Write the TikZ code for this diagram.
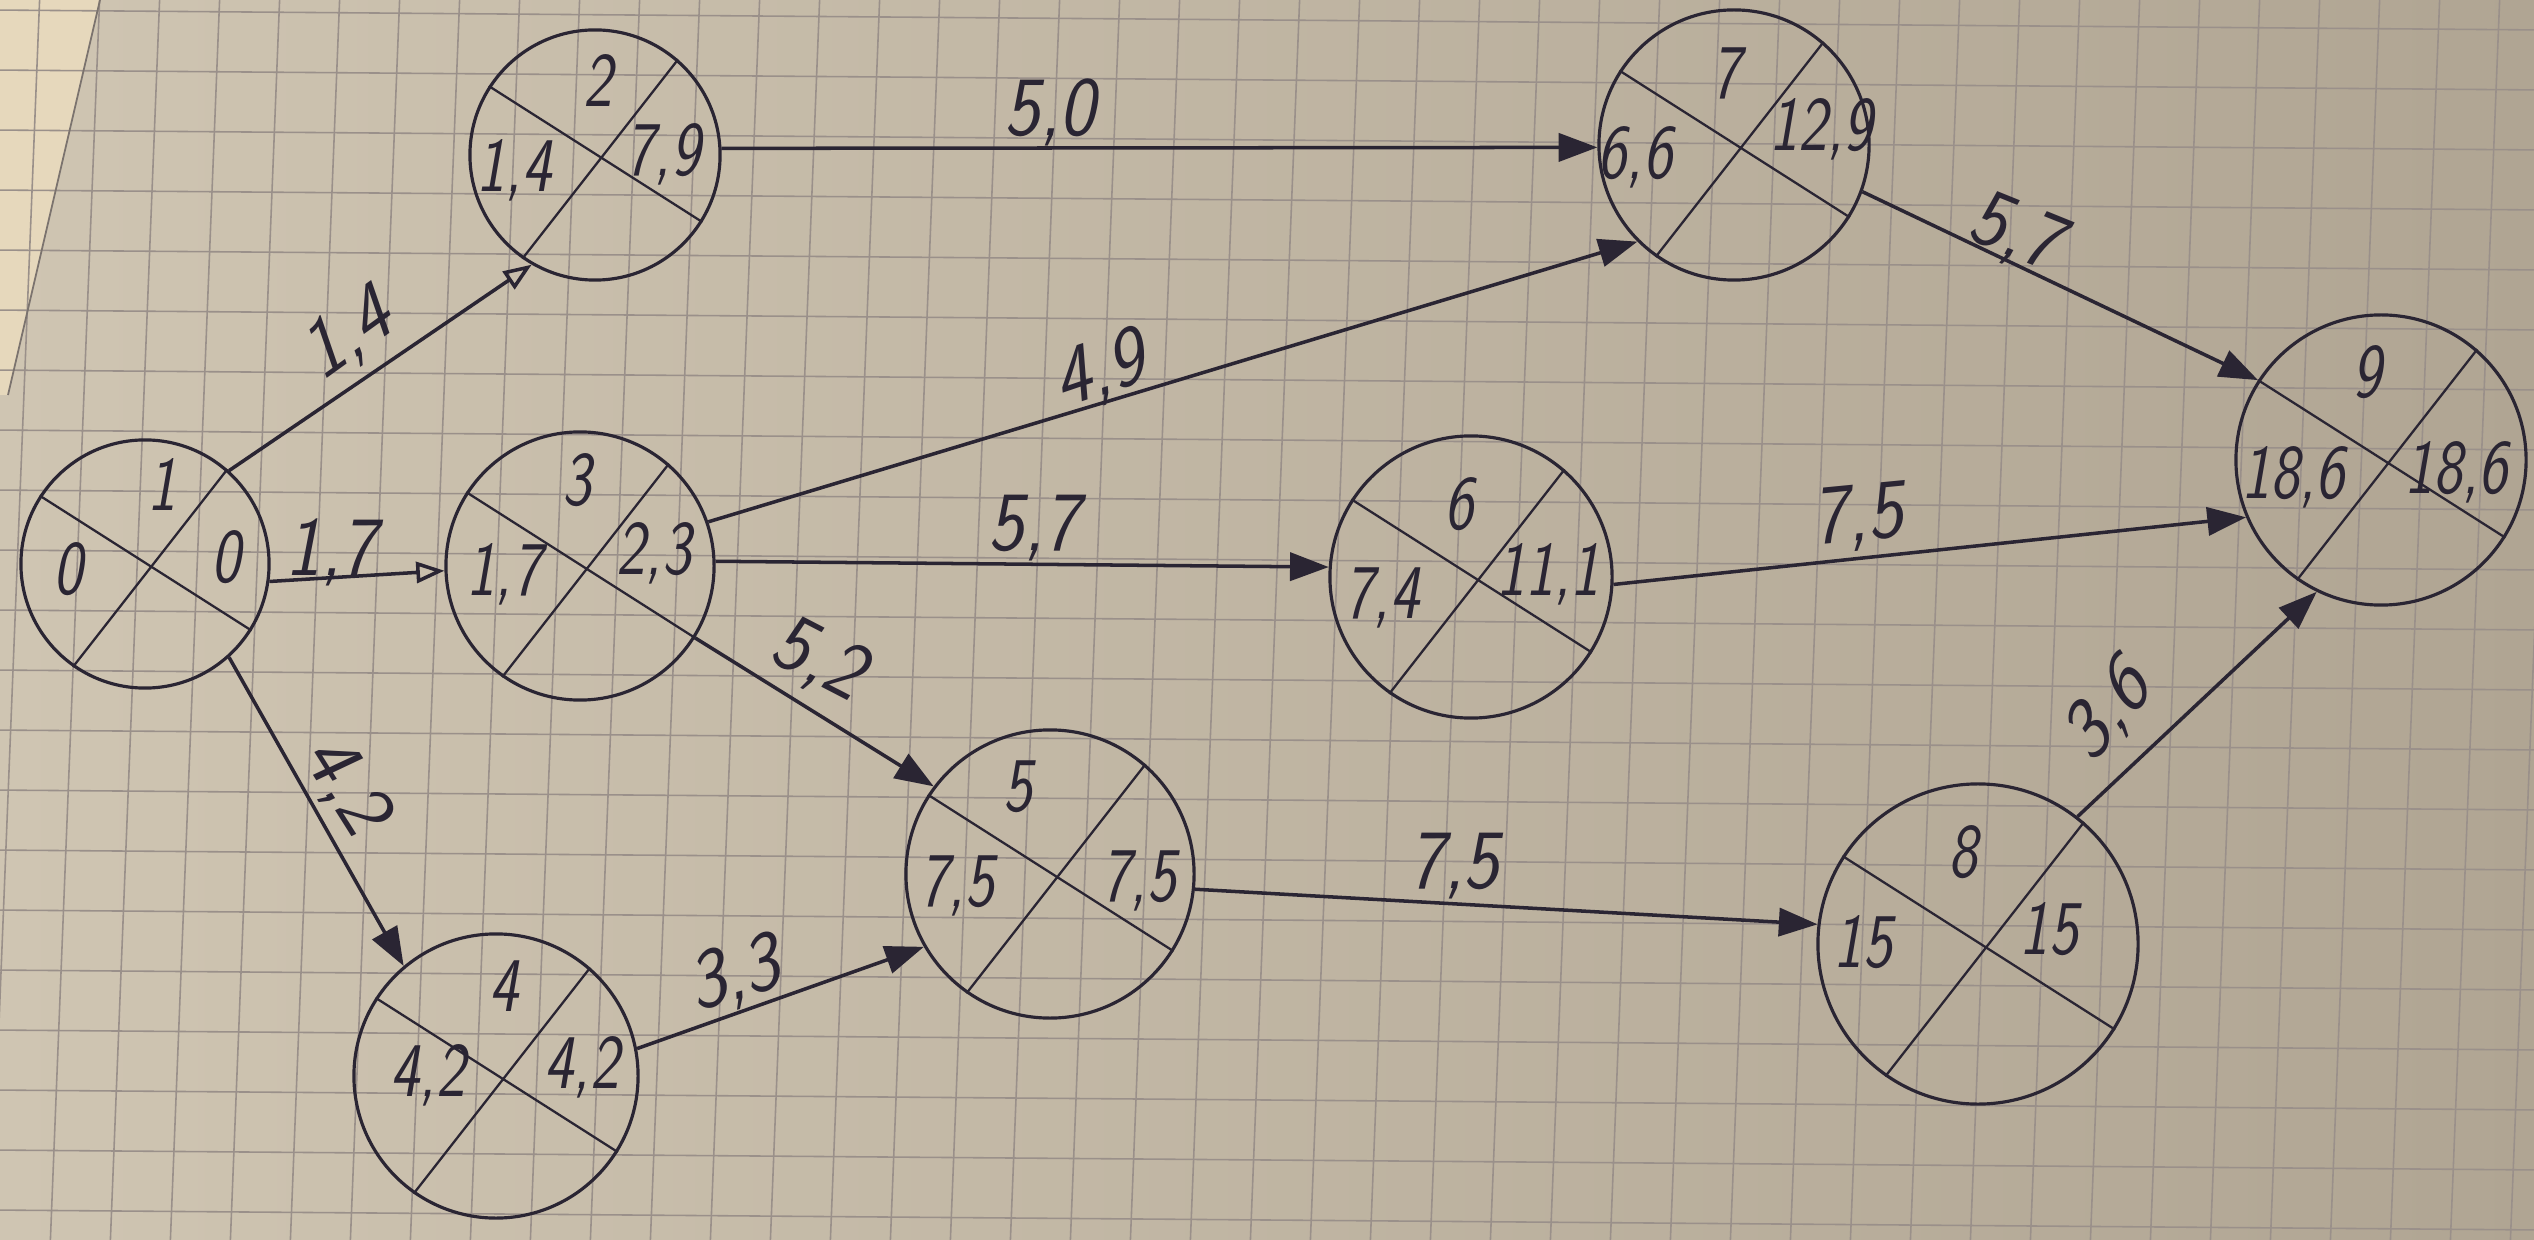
\documentclass[tikz,border=0pt]{standalone}
\usetikzlibrary{arrows.meta}
\definecolor{inkc}{HTML}{2A2533}
\definecolor{paperA}{HTML}{CFC5B2}
\definecolor{paperB}{HTML}{B0A593}
\definecolor{gridc}{HTML}{9A908A}
\definecolor{woodc}{HTML}{E6D8BC}
\begin{document}
\begin{tikzpicture}[x=0.01cm,y=-0.01cm,
  ev/.style={circle,draw=inkc,line width=0.9pt,inner sep=0pt,minimum size=#1},
  cr/.style={draw=inkc,line width=0.65pt},
  con/.style={draw=inkc,line width=1pt,-{Triangle[length=11pt,width=8pt]}},
  conopen/.style={draw=inkc,line width=1pt,-{Triangle[open,length=8pt,width=6pt]}},
  num/.style={text=inkc,font=\fontsize{22}{24}\selectfont\sffamily\itshape,inner sep=0pt,xscale=0.8},
  elab/.style={text=inkc,font=\fontsize{24}{26}\selectfont\sffamily\itshape,inner sep=0pt,xscale=0.9}]
\useasboundingbox (0,0) rectangle (2534,1240);
% paper
\shade[left color=paperA,right color=paperB] (0,0) rectangle (2534,1240);
\fill[woodc] (0,0) -- (100,0) -- (8,395) -- (0,395) -- cycle;
\foreach \i in {0,...,45} \draw[gridc,line width=0.45pt] ({\i*60+40},-10) -- ({\i*60-10},1250);
\foreach \j in {0,...,21} \draw[gridc,line width=0.45pt] (-10,{\j*60+10}) -- (2544,{\j*60+30});
\draw[gridc!80!black,line width=0.5pt] (100,0) -- (8,395);
% events
\node[ev=2.48cm] (n1) at (145,564) {};
\node[ev=2.50cm] (n2) at (595,155) {};
\node[ev=2.68cm] (n3) at (580,566) {};
\node[ev=2.84cm] (n4) at (496,1076) {};
\node[ev=2.88cm] (n5) at (1050,874) {};
\node[ev=2.82cm] (n6) at (1471,577) {};
\node[ev=2.70cm] (n7) at (1734,145) {};
\node[ev=3.20cm] (n8) at (1978,944) {};
\node[ev=2.90cm] (n9) at (2381,460) {};
\foreach \n in {n1,n2,n3,n4,n5,n6,n7,n8,n9}
  \draw[cr] (\n.147) -- (\n.-32) (\n.235) -- (\n.49);
% numbers in events
\node[num] (t1) at (162,485) {1};
\node[num] (e1) at (68,569) {0};
\node[num] (l1) at (226,557) {0};
\node[num] (t2) at (598,81) {2};
\node[num] (e2) at (514,170) {1,4};
\node[num] (l2) at (663,154) {7,9};
\node[num] (t3) at (577,480) {3};
\node[num] (e3) at (504,574) {1,7};
\node[num] (l3) at (654,553) {2,3};
\node[num] (t4) at (504,986) {4};
\node[num] (e4) at (428,1075) {4,2};
\node[num] (l4) at (582,1067) {4,2};
\node[num] (t5) at (1018,787) {5};
\node[num] (e5) at (957,886) {7,5};
\node[num] (l5) at (1139,881) {7,5};
\node[num] (t6) at (1459,504) {6};
\node[num] (e6) at (1382,598) {7,4};
\node[num] (l6) at (1548,574) {11,1};
\node[num] (t7) at (1726,73) {7};
\node[num] (e7) at (1635,157) {6,6};
\node[num] (l7) at (1821,129) {12,9};
\node[num] (t8) at (1963,852) {8};
\node[num] (e8) at (1863,942) {15};
\node[num] (l8) at (2049,929) {15};
\node[num] (t9) at (2367,372) {9};
\node[num] (e9) at (2293,477) {18,6};
\node[num] (l9) at (2456,472) {18,6};
% activities
\draw[conopen] (n1.48) -- (n2.240);
\draw[conopen] (n1.-8) -- (n3.182);
\draw[con] (n1.-48) -- (n4.130);
\draw[con] (n2.3) -- (n7.181);
\draw[con] (n3.19) -- (n7.225);
\draw[con] (n3.2) -- (n6.176);
\draw[con] (n3.-32) -- (n5.143);
\draw[con] (n4.11) -- (n5.210);
\draw[con] (n5.-6) -- (n8.173);
\draw[con] (n6.-3) -- (n9.203);
\draw[con] (n7.-20) -- (n9.147);
\draw[con] (n8.52) -- (n9.244);
% activity durations
\node[elab,rotate=33] (a12) at (348,336) {1,4};
\node[elab] (a13) at (331,552) {1,7};
\node[elab,rotate=-55] (a14) at (345,785) {4,2};
\node[elab] (a27) at (1050,112) {5,0};
\node[elab,rotate=17] (a37) at (1100,372) {4,9};
\node[elab] (a36) at (1034,528) {5,7};
\node[elab,rotate=-25] (a35) at (818,660) {5,2};
\node[elab,rotate=15] (a45) at (735,976) {3,3};
\node[elab] (a58) at (1454,866) {7,5};
\node[elab,rotate=5] (a69) at (1858,518) {7,5};
\node[elab,rotate=-20] (a79) at (2015,234) {5,7};
\node[elab,rotate=48] (a89) at (2108,712) {3,6};
\end{tikzpicture}
\end{document}
